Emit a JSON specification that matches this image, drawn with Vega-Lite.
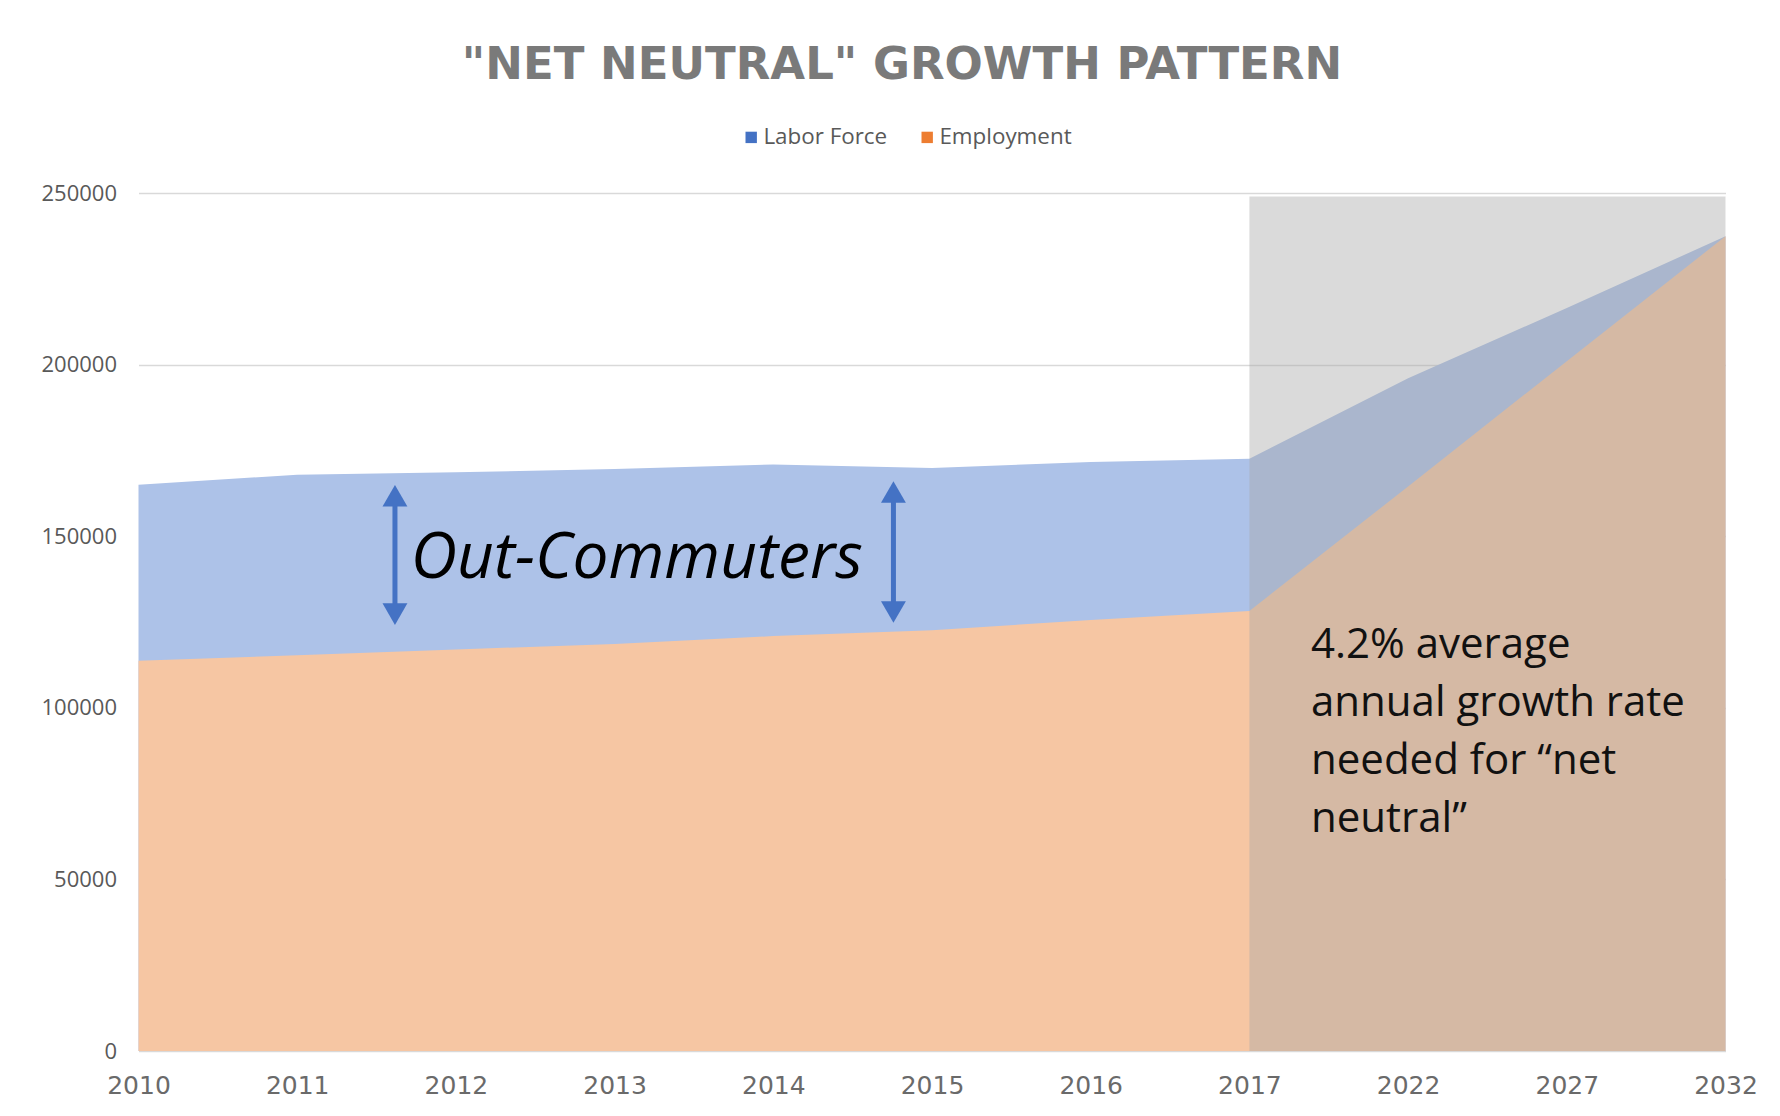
{
  "$schema": "https://vega.github.io/schema/vega-lite/v6.json",
  "width": 1587,
  "height": 858,
  "autosize": {"type": "none"},
  "padding": {"left": 138.5, "top": 193, "right": 54.5, "bottom": 65},
  "background": "white",
  "title": {
    "text": "\"NET NEUTRAL\" GROWTH PATTERN",
    "font": "DejaVu Sans",
    "fontSize": 45,
    "fontWeight": "bold",
    "color": "#7a7a7a",
    "anchor": "middle",
    "frame": "group",
    "dx": -30,
    "offset": 38
  },
  "config": {"view": {"stroke": null}},
  "datasets": {
    "series": [
      {"t": 0, "year": "2010", "labor": 165000, "employment": 113700},
      {"t": 1, "year": "2011", "labor": 167900, "employment": 115300},
      {"t": 2, "year": "2012", "labor": 168600, "employment": 117000},
      {"t": 3, "year": "2013", "labor": 169600, "employment": 118600},
      {"t": 4, "year": "2014", "labor": 170900, "employment": 120900},
      {"t": 5, "year": "2015", "labor": 169900, "employment": 122600},
      {"t": 6, "year": "2016", "labor": 171600, "employment": 125600},
      {"t": 7, "year": "2017", "labor": 172600, "employment": 128200},
      {"t": 8, "year": "2022", "labor": 196000, "employment": 164500},
      {"t": 9, "year": "2027", "labor": 216500, "employment": 201000},
      {"t": 10, "year": "2032", "labor": 237400, "employment": 237400}
    ],
    "arrows": [
      {"t": 1.616, "top": 161800, "bottom": 127300},
      {"t": 4.757, "top": 162900, "bottom": 127900}
    ]
  },
  "layer": [
    {
      "data": {"name": "series"},
      "mark": {"type": "area", "color": "#adc2e8", "interpolate": "linear"},
      "encoding": {
        "x": {
          "field": "t", "type": "quantitative", "title": null,
          "scale": {"domain": [0, 10], "nice": false, "zero": false},
          "axis": {
            "values": [0, 1, 2, 3, 4, 5, 6, 7, 8, 9, 10],
            "labelExpr": "['2010','2011','2012','2013','2014','2015','2016','2017','2022','2027','2032'][datum.value]",
            "grid": false, "domain": false, "ticks": false,
            "labelFont": "DejaVu Sans", "labelFontSize": 25, "labelColor": "#6a6a6a",
            "labelPadding": 22, "labelFlush": false, "labelOverlap": false, "labelBound": false
          }
        },
        "y": {
          "field": "labor", "type": "quantitative", "title": null,
          "scale": {"domain": [0, 250000], "nice": false},
          "axis": {
            "values": [0, 50000, 100000, 150000, 200000, 250000],
            "format": "d",
            "grid": true, "gridColor": "#d9d9d9", "gridWidth": 1.5,
            "domain": false, "ticks": false,
            "labelFont": "Open Sans", "labelFontSize": 22, "labelColor": "#595959",
            "labelPadding": 22
          }
        }
      }
    },
    {
      "data": {"name": "series"},
      "mark": {"type": "area", "color": "#f6c6a3", "interpolate": "linear"},
      "encoding": {
        "x": {"field": "t", "type": "quantitative", "title": null},
        "y": {"field": "employment", "type": "quantitative", "title": null}
      }
    },
    {
      "data": {"values": [{"t": 7, "t2": 10, "v": 0, "v2": 249000}]},
      "mark": {"type": "rect", "color": "#a6a6a6", "opacity": 0.42},
      "encoding": {
        "x": {"field": "t", "type": "quantitative", "title": null},
        "x2": {"field": "t2"},
        "y": {"field": "v", "type": "quantitative", "title": null},
        "y2": {"field": "v2"}
      }
    },
    {
      "data": {"name": "arrows"},
      "mark": {"type": "rule", "color": "#4472c4", "strokeWidth": 5},
      "encoding": {
        "x": {"field": "t", "type": "quantitative", "title": null},
        "y": {"field": "bottom", "type": "quantitative", "title": null},
        "y2": {"field": "top"}
      }
    },
    {
      "data": {"name": "arrows"},
      "transform": [{"fold": ["top", "bottom"], "as": ["end", "v"]}],
      "mark": {"type": "point", "filled": true, "color": "#4472c4", "opacity": 1, "size": 620},
      "encoding": {
        "x": {"field": "t", "type": "quantitative", "title": null},
        "y": {"field": "v", "type": "quantitative", "title": null},
        "shape": {
          "field": "end", "type": "nominal", "legend": null,
          "scale": {"domain": ["top", "bottom"], "range": ["triangle-up", "triangle-down"]}
        }
      }
    },
    {
      "data": {"values": [{"t": 3.14, "v": 143500, "label": "Out-Commuters"}]},
      "mark": {"type": "text", "font": "Open Sans", "fontStyle": "italic", "fontSize": 64, "color": "#000000", "align": "center", "baseline": "middle"},
      "encoding": {
        "x": {"field": "t", "type": "quantitative", "title": null},
        "y": {"field": "v", "type": "quantitative", "title": null},
        "text": {"field": "label"}
      }
    },
    {
      "data": {"values": [{"t": 7.388, "v": 124000, "label": "4.2% average\nannual growth rate\nneeded for “net\nneutral”"}]},
      "mark": {"type": "text", "font": "Open Sans", "fontSize": 42, "color": "#111111", "align": "left", "baseline": "top", "lineBreak": "\n", "lineHeight": 58},
      "encoding": {
        "x": {"field": "t", "type": "quantitative", "title": null},
        "y": {"field": "v", "type": "quantitative", "title": null},
        "text": {"field": "label"}
      }
    },
    {
      "data": {"values": [{"series": "Labor Force"}, {"series": "Employment"}]},
      "mark": {"type": "square", "opacity": 0},
      "encoding": {
        "color": {
          "field": "series", "type": "nominal",
          "scale": {"domain": ["Labor Force", "Employment"], "range": ["#4472c4", "#ed7d31"]},
          "legend": {
            "orient": "none", "legendX": 601.5, "legendY": -67,
            "direction": "horizontal", "title": null,
            "symbolType": "square", "symbolSize": 130, "symbolOpacity": 1, "symbolStrokeWidth": 0,
            "labelFont": "Open Sans", "labelFontSize": 22.4, "labelColor": "#595959",
            "labelOffset": 1, "columnPadding": 28, "padding": 0
          }
        }
      }
    }
  ]
}
